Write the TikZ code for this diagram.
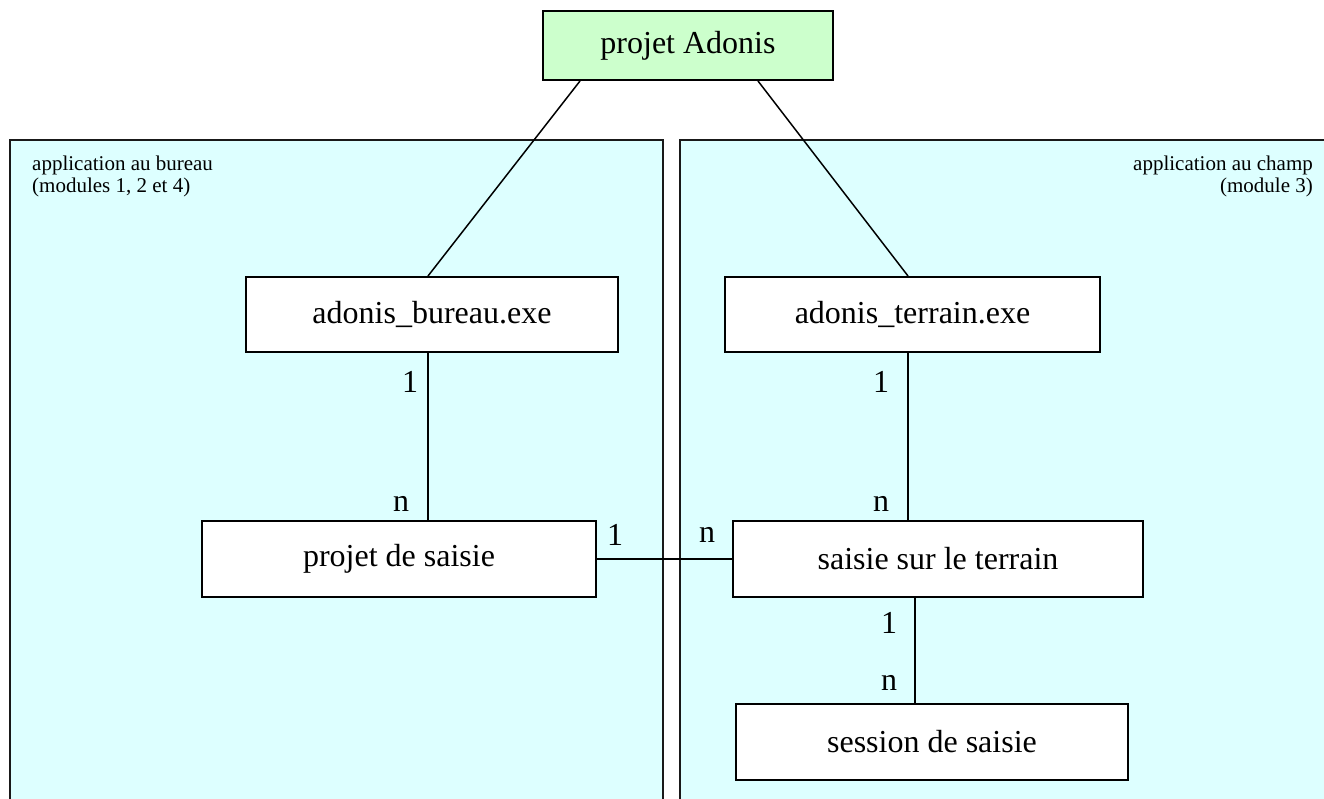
\documentclass[tikz,border=0pt]{standalone}
\usepackage{fontspec}
\setmainfont{Liberation Serif}
\usepackage{xcolor}
\usetikzlibrary{positioning}
\definecolor{ZoneC}{RGB}{221,255,255}
\definecolor{RootC}{RGB}{204,255,204}
\tikzset{
  zone/.style={draw=black!90,line width=2pt,fill=ZoneC},
  zonelabel/.style={inner sep=0pt,font=\fontsize{21}{22}\selectfont},
  entity/.style={draw=black,line width=2pt,fill=white,inner sep=0pt,
                 font=\fontsize{32}{38}\selectfont},
  root/.style={entity,fill=RootC},
  link/.style={line width=1.5pt,black},
  mult/.style={inner sep=0pt,font=\fontsize{32}{38}\selectfont},
}

\begin{document}
\begin{tikzpicture}[x=1pt,y=-1pt]
  \clip (0,0) rectangle (1324,798);
  \fill[white] (0,0) rectangle (1324,798);
  % the two applications
  \draw[zone] (10,140) rectangle (663,830);
  \draw[zone] (680,140) rectangle (1345,830);
  \node[zonelabel,anchor=north west,align=left] (bureauzone) at (32,155.5)
    {application au bureau\\(modules 1, 2 et 4)};
  \node[zonelabel,anchor=north east,align=right] (champzone) at (1313,155.5)
    {application au champ\\(module 3)};
  % entities
  \node[root,minimum width=290pt,minimum height=69pt] (adonis) at (688,45.5) {projet Adonis};
  \node[entity,minimum width=372pt,minimum height=75pt] (bureau) at (432,314.5) {adonis\_bureau.exe};
  \node[entity,minimum width=375pt,minimum height=75pt] (terrain) at (912.5,314.5) {adonis\_terrain.exe};
  \node[entity,minimum width=394pt,minimum height=76pt] (projsaisie) at (399,559) {projet de saisie};
  \node[entity,minimum width=410pt,minimum height=76pt] (terrsaisie) at (938,559) {saisie sur le terrain};
  \node[entity,minimum width=392pt,minimum height=76pt] (session) at (932,742) {session de saisie};
  % links
  \draw[link] ([xshift=38pt]adonis.south west) -- ([xshift=-4pt]bureau.north);
  \draw[link] ([xshift=-76pt]adonis.south east) -- ([xshift=-4.5pt]terrain.north);
  \draw[link] ([xshift=-4pt]bureau.south) -- ([xshift=-4pt]bureau.south |- projsaisie.north);
  \draw[link] ([xshift=-4.5pt]terrain.south) -- ([xshift=-4.5pt]terrain.south |- terrsaisie.north);
  \draw[link] (projsaisie.east) -- (terrsaisie.west);
  \draw[link] ([xshift=-23pt]terrsaisie.south) -- ([xshift=-23pt]terrsaisie.south |- session.north);
  % multiplicities
  \node[mult] (m1) at (410,382) {1};
  \node[mult] (m2) at (401,504) {n};
  \node[mult] (m3) at (881,382) {1};
  \node[mult] (m4) at (881,504) {n};
  \node[mult] (m5) at (615,535) {1};
  \node[mult] (m6) at (707,535) {n};
  \node[mult] (m7) at (889,623) {1};
  \node[mult] (m8) at (889,683) {n};
\end{tikzpicture}
\end{document}
